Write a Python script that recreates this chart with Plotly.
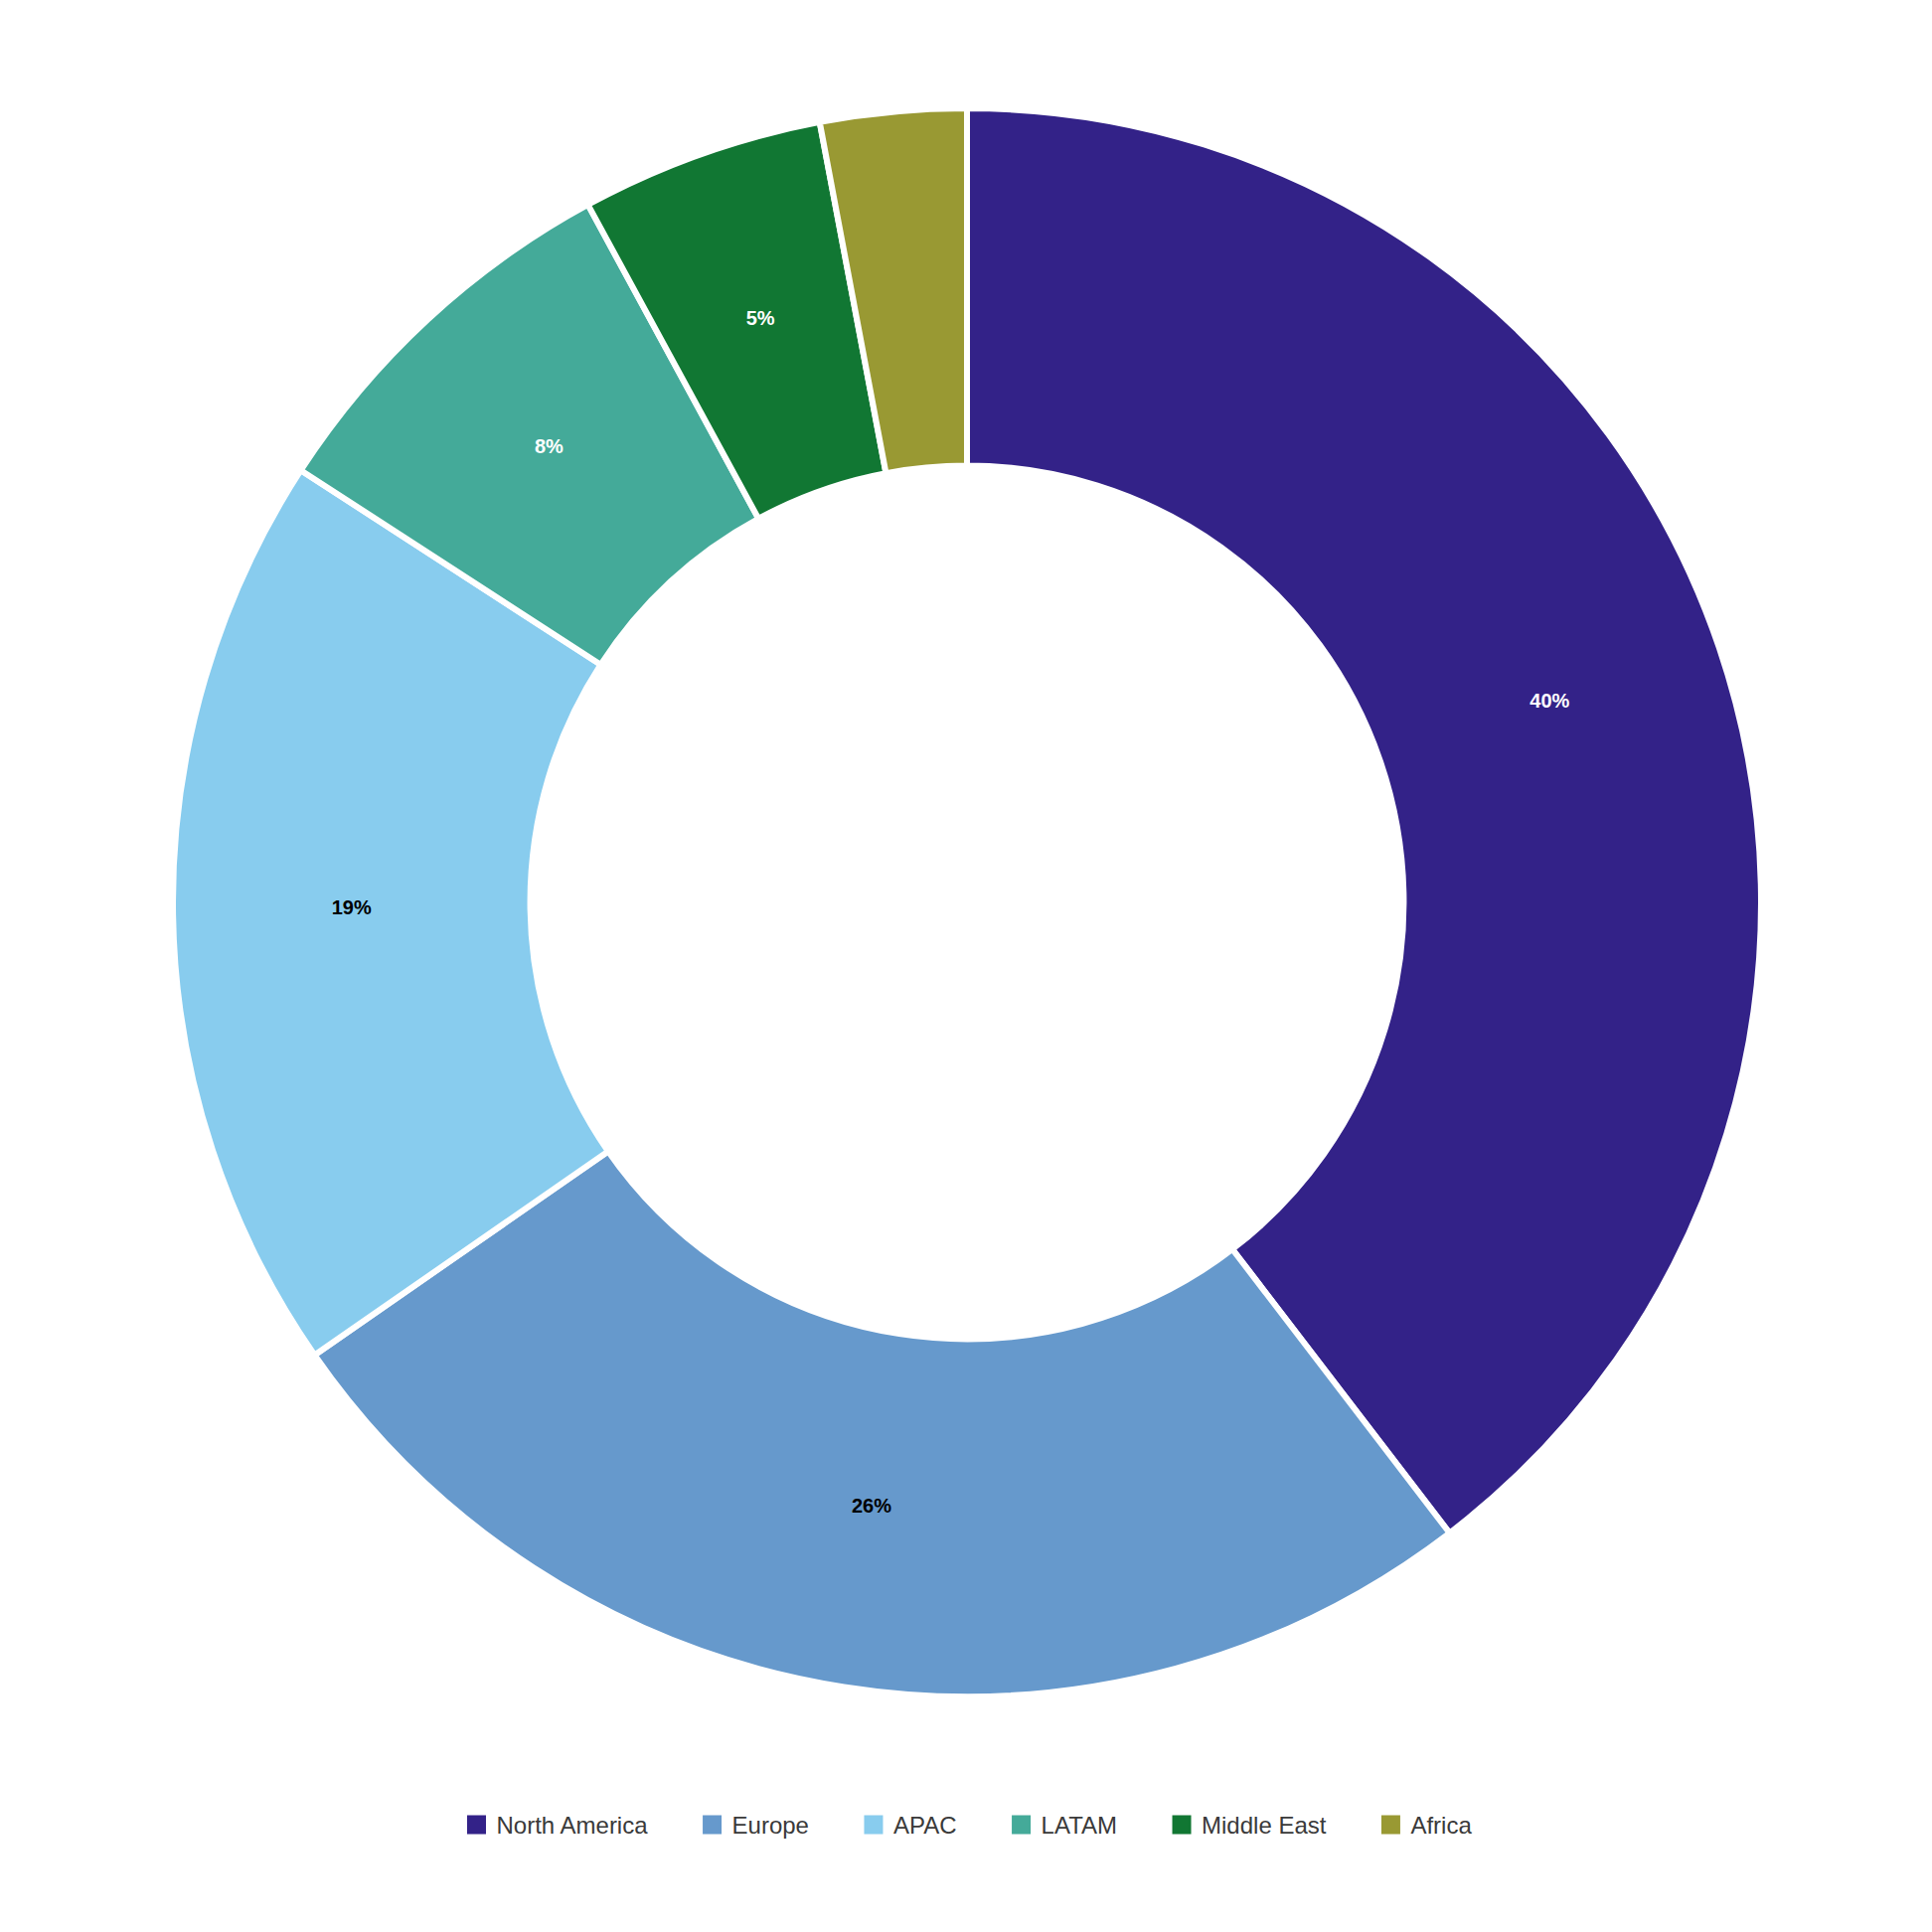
import plotly.graph_objects as go

regions = ["North America", "Europe", "APAC", "LATAM", "Middle East", "Africa"]
shares = [40, 26, 19, 8, 5, 3]
colors = ["#332288", "#6699CC", "#88CCEE", "#44AA99", "#117733", "#999933"]
text_colors = ["#ffffff", "#000000", "#000000", "#ffffff", "#ffffff", "#ffffff"]
label_min = 5  # slices below this share carry no label

labels_shown = [f"{v}%" if v >= label_min else "" for v in shares]

NBSP = "\u00a0"
fig = go.Figure()

# coloured donut
fig.add_trace(go.Pie(
    labels=regions,
    values=shares,
    textinfo="none",
    hole=0.55,
    sort=False,
    direction="clockwise",
    rotation=0,
    showlegend=False,
    domain=dict(x=[0, 1], y=[0, 1]),
    marker=dict(colors=colors, line=dict(color="#ffffff", width=6)),
    hovertemplate="%{label}: %{value}%<extra></extra>",
))

# transparent thin ring carrying the labels at the ring's mid radius
fig.add_trace(go.Pie(
    labels=regions,
    values=shares,
    text=labels_shown,
    textinfo="text",
    textposition="inside",
    insidetextorientation="horizontal",
    hole=0.70 / 0.85,
    sort=False,
    direction="clockwise",
    rotation=0,
    showlegend=False,
    hoverinfo="skip",
    domain=dict(x=[0.075, 0.925], y=[0.078, 0.928]),
    marker=dict(colors=["rgba(0,0,0,0)"] * len(regions), line=dict(width=0)),
    textfont=dict(family="Liberation Sans, Arial, sans-serif", size=20, color=text_colors, weight="bold"),
))

# legend entries
for i, (name, col) in enumerate(zip(regions, colors)):
    fig.add_trace(go.Scatter(
        x=[None], y=[None], mode="markers",
        name=name + (NBSP * 6 if i < len(regions) - 1 else ""),
        marker=dict(symbol="square", size=16, color=col, line=dict(color=col, width=3)),
        showlegend=True, hoverinfo="skip",
    ))

fig.update_layout(
    width=1944, height=1944,
    paper_bgcolor="#ffffff", plot_bgcolor="#ffffff",
    margin=dict(l=166, r=180, t=101, b=245),
    xaxis=dict(visible=False), yaxis=dict(visible=False),
    showlegend=True,
    legend=dict(
        orientation="h", x=0.5, xanchor="center", y=-0.081, yanchor="middle",
        font=dict(family="Liberation Sans, Arial, sans-serif", size=24, color="#3a3a3a"),
        itemsizing="trace",
    ),
)

fig.write_html("out.html")
